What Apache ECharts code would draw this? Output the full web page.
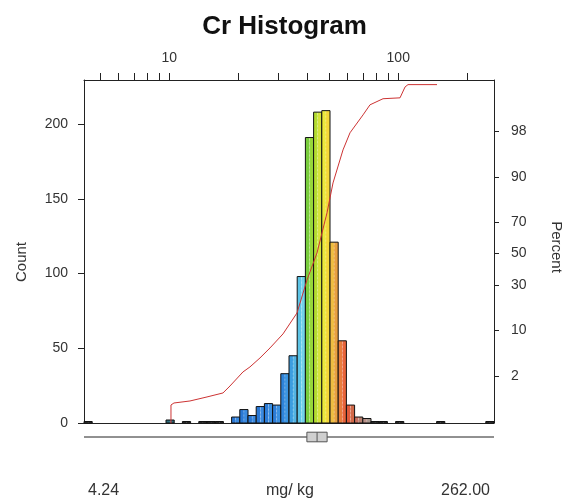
<!DOCTYPE html>
<html>
<head>
<meta charset="utf-8">
<script src="https://cdn.jsdelivr.net/npm/echarts@6/dist/echarts.min.js"></script>
<style>html,body{margin:0;padding:0;background:#fff}#c{width:569px;height:502px}</style>
</head>
<body>
<div id="c"></div>
<script>
// ---- data ----
const dataMin = 4.24;
const dataMax = 262.0;
const binCounts = [1,0,0,0,0,0,0,0,0,0, 2,0,1,0,1,1,1,0,4,9, 5,11,13,12,33,45,98,191,208,209, 121,55,12,4,3,1,1,0,1,0, 0,0,0,1,0,0,0,0,0,1];
const cdfX   = [10.17,10.17,10.48,12.31,14.61,17.16,18.41,20.98,22.51,24.90,27.54,31.38,36.13,39.95,44.18,48.85,51.89,57.38,61.55,70.18,75.27,85.81,101.8,107.1,110.3,147.7];
const cdfPct = [0.22,0.556,0.612,0.673,0.811,0.972,1.32,2.36,2.87,4.01,5.68,8.90,15.99,32.9,50.5,75.3,88.2,95.9,97.86,99.00,99.37,99.53,99.55,99.74,99.77,99.77];
const boxStats = [4.24, 39.9, 44.2, 48.9, 262.0]; // min, q1, median, q3, max
const countTicks = [0,50,100,150,200];
const percentTicks = [2,10,30,50,70,90,98];
const topTicks = [5,6,7,8,9,10,20,30,40,50,60,70,80,90,100,200];
const topLabels = [10,100];
const countMax = 229.5;
const pctRange = [0.225, 99.82];

// ---- styles ----
const binColors = {
  10:['#2d6c7c','#2d6c7c'],
  18:['#2a78d4','#3a8ae0'],19:['#2a78d4','#3a8ae0'],20:['#2a78d4','#3a8ae0'],21:['#2a78d4','#3a8ae0'],
  22:['#2c7cd6','#3a8ee0'],23:['#2c7cd6','#3a90e0'],24:['#2e84da','#3c96e2'],
  25:['#3c9ee0','#52b4e4'],26:['#5cc4e6','#72d2ea'],27:['#78cc3c','#96d83a'],
  28:['#b4dc30','#d4e43a'],29:['#ece83c','#f4d838'],30:['#eebc40','#e8a040'],
  31:['#e87c3c','#e8643a'],32:['#e05a3a','#d06848'],33:['#c87060','#b88070'],34:['#b89088','#a89890']
};

function probit(p){
  const a=[-3.969683028665376e+01,2.209460984245205e+02,-2.759285104469687e+02,1.383577518672690e+02,-3.066479806614716e+01,2.506628277459239e+00];
  const b=[-5.447609879822406e+01,1.615858368580409e+02,-1.556989798598866e+02,6.680131188771972e+01,-1.328068155288572e+01];
  const c=[-7.784894002430293e-03,-3.223964580411365e-01,-2.400758277161838e+00,-2.549732539343734e+00,4.374664141464968e+00,2.938163982698783e+00];
  const d=[7.784695709041462e-03,3.224671290700398e-01,2.445134137142996e+00,3.754408661907416e+00];
  const pl=0.02425, ph=1-pl; let q,r;
  if(p<pl){q=Math.sqrt(-2*Math.log(p));return (((((c[0]*q+c[1])*q+c[2])*q+c[3])*q+c[4])*q+c[5])/((((d[0]*q+d[1])*q+d[2])*q+d[3])*q+1);}
  if(p<=ph){q=p-0.5;r=q*q;return (((((a[0]*r+a[1])*r+a[2])*r+a[3])*r+a[4])*r+a[5])*q/(((((b[0]*r+b[1])*r+b[2])*r+b[3])*r+b[4])*r+1);}
  q=Math.sqrt(-2*Math.log(1-p));return -(((((c[0]*q+c[1])*q+c[2])*q+c[3])*q+c[4])*q+c[5])/((((d[0]*q+d[1])*q+d[2])*q+d[3])*q+1);
}

const nBins = binCounts.length;
const lmin = Math.log10(dataMin), lmax = Math.log10(dataMax), lw = (lmax-lmin)/nBins;
const binData = binCounts.map((cnt,i)=>[Math.pow(10,lmin+i*lw), Math.pow(10,lmin+(i+1)*lw), cnt, i]);
const lineData = cdfX.map((x,i)=>[x, probit(cdfPct[i]/100)]);
const pctZ = percentTicks.map(p=>probit(p/100));

const font = 'Liberation Sans, Arial, sans-serif';
const axisCol = '#222';
const textCol = '#333';

const chart = echarts.init(document.getElementById('c'), null, {renderer:'canvas'});
chart.setOption({
  animation:false,
  backgroundColor:'#fff',
  title:{text:'Cr Histogram', left:'center', top:14, padding:[0,0,0,7],
    textStyle:{fontFamily:font, fontSize:26, fontWeight:'bold', color:'#111'}},
  grid:[
    {left:84, top:80, width:410, height:343, containLabel:false},
    {left:84, top:431, width:410, height:12, containLabel:false}
  ],
  xAxis:[
    {type:'log', logBase:10, min:dataMin, max:dataMax, gridIndex:0, position:'bottom',
      axisLine:{show:true, onZero:false, lineStyle:{color:axisCol, width:1}},
      axisTick:{show:false}, axisLabel:{show:false}, splitLine:{show:false}},
    {type:'log', logBase:10, min:dataMin, max:dataMax, gridIndex:0, position:'top',
      axisLine:{show:true, onZero:false, lineStyle:{color:axisCol, width:1}},
      axisTick:{show:true, length:7, customValues:topTicks, lineStyle:{color:axisCol}},
      axisLabel:{show:true, customValues:topLabels, margin:15, fontFamily:font, fontSize:14, color:textCol,
        formatter:v=>String(Math.round(v))},
      splitLine:{show:false}, minorTick:{show:false}},
    {type:'log', logBase:10, min:dataMin, max:dataMax, gridIndex:1, show:false}
  ],
  yAxis:[
    {type:'value', min:0, max:countMax, gridIndex:0, position:'left',
      axisLine:{show:true, onZero:false, lineStyle:{color:axisCol, width:1}},
      axisTick:{show:true, length:6, customValues:countTicks, lineStyle:{color:axisCol}},
      axisLabel:{show:true, customValues:countTicks, margin:16, fontFamily:font, fontSize:14, color:textCol},
      splitLine:{show:false}},
    {type:'value', min:probit(pctRange[0]/100), max:probit(pctRange[1]/100), gridIndex:0, position:'right',
      axisLine:{show:true, onZero:false, lineStyle:{color:axisCol, width:1}},
      axisTick:{show:true, length:5, customValues:pctZ, lineStyle:{color:axisCol}},
      axisLabel:{show:true, customValues:pctZ, margin:17, fontFamily:font, fontSize:14, color:textCol,
        formatter:v=>{let bi=0,bd=1e9;pctZ.forEach((z,i)=>{const d=Math.abs(z-v);if(d<bd){bd=d;bi=i;}});return String(percentTicks[bi]);}},
      splitLine:{show:false}},
    {type:'value', min:0, max:1, gridIndex:1, show:false}
  ],
  graphic:[
    {type:'text', x:22, y:262, rotation:Math.PI/2, style:{text:'Count', fontFamily:font, fontSize:15, fill:textCol, textAlign:'center', textVerticalAlign:'middle'}},
    {type:'text', x:556, y:247, rotation:-Math.PI/2, style:{text:'Percent', fontFamily:font, fontSize:15, fill:textCol, textAlign:'center', textVerticalAlign:'middle'}},
    {type:'text', x:88, y:491, style:{text:'4.24', fontFamily:font, fontSize:16, fill:textCol, textAlign:'left', textVerticalAlign:'middle'}},
    {type:'text', x:290, y:491, style:{text:'mg/ kg', fontFamily:font, fontSize:16, fill:textCol, textAlign:'center', textVerticalAlign:'middle'}},
    {type:'text', x:490, y:491, style:{text:'262.00', fontFamily:font, fontSize:16, fill:textCol, textAlign:'right', textVerticalAlign:'middle'}}
  ],
  series:[
    {type:'custom', xAxisIndex:0, yAxisIndex:0, data:binData, encode:{x:[0,1], y:2}, z:2,
      renderItem:(params, api)=>{
        const lo=api.value(0), hi=api.value(1), cnt=api.value(2), idx=api.value(3);
        if(!cnt) return null;
        const p0=api.coord([lo,cnt]), p1=api.coord([hi,0]);
        const w=p1[0]-p0[0], h=p1[1]-p0[1];
        const cols = binColors[idx] || ['#3a3a3a','#3a3a3a'];
        return {type:'group', children:[
          {type:'rect', shape:{x:p0[0], y:p0[1], width:w/2, height:h}, style:{fill:cols[0]}},
          {type:'rect', shape:{x:p0[0]+w/2, y:p0[1], width:w/2, height:h}, style:{fill:cols[1]}},
          {type:'line', shape:{x1:p0[0]+w/2, y1:p0[1]+1, x2:p0[0]+w/2, y2:p1[1]}, style:{stroke:'rgba(255,255,255,0.45)', lineWidth:0.6, lineDash:[2,2]}},
          {type:'rect', shape:{x:p0[0], y:p0[1], width:w, height:h}, style:{fill:null, stroke:'#111', lineWidth:1}}
        ]};
      }},
    {type:'line', xAxisIndex:0, yAxisIndex:1, data:lineData, symbol:'none', z:5,
      lineStyle:{color:'#cc3333', width:1}},
    {type:'custom', xAxisIndex:2, yAxisIndex:2, data:[boxStats], encode:{x:[0,1,2,3,4]}, z:3,
      renderItem:(params, api)=>{
        const mn=api.coord([api.value(0),0.5]), mx=api.coord([api.value(4),0.5]);
        const q1=api.coord([api.value(1),0.9]), q3=api.coord([api.value(3),0.1]);
        const md=api.coord([api.value(2),0.9]), mdb=api.coord([api.value(2),0.1]);
        return {type:'group', children:[
          {type:'line', shape:{x1:mn[0], y1:mn[1], x2:mx[0], y2:mx[1]}, style:{stroke:'#222', lineWidth:1}},
          {type:'rect', shape:{x:q1[0], y:q1[1], width:q3[0]-q1[0], height:q3[1]-q1[1]}, style:{fill:'#cfcfcf', stroke:'#555', lineWidth:1}},
          {type:'line', shape:{x1:md[0], y1:md[1], x2:mdb[0], y2:mdb[1]}, style:{stroke:'#555', lineWidth:1}}
        ]};
      }}
  ]
});
</script>
</body>
</html>
